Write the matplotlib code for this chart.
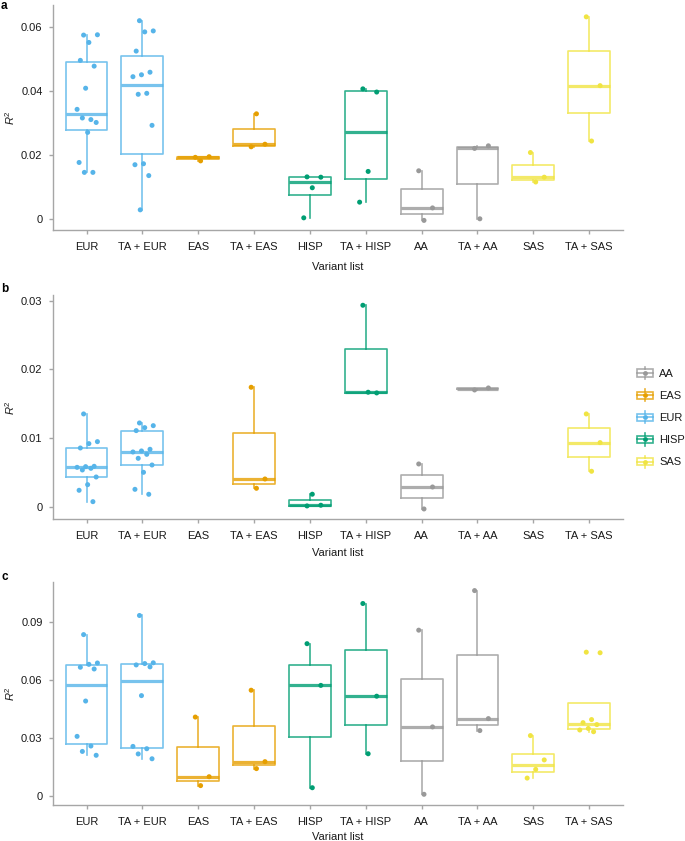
import matplotlib
matplotlib.use("Agg")
import matplotlib.pyplot as plt
import numpy as np
from matplotlib.legend_handler import HandlerBase
from matplotlib.patches import Rectangle, Patch
from matplotlib.lines import Line2D

plt.rcParams['font.family'] = ['Liberation Sans', 'DejaVu Sans']
plt.rcParams['mathtext.fontset'] = 'custom'
plt.rcParams['mathtext.rm'] = 'Liberation Sans'
plt.rcParams['mathtext.it'] = 'Liberation Sans:italic'

# ---------------- data ----------------
groups = ["EUR", "TA + EUR", "EAS", "TA + EAS", "HISP", "TA + HISP",
          "AA", "TA + AA", "SAS", "TA + SAS"]
ancestry = ["EUR", "EUR", "EAS", "EAS", "HISP", "HISP", "AA", "AA", "SAS", "SAS"]
legend_order = ["AA", "EAS", "EUR", "HISP", "SAS"]

r2_a = {
    "EUR": [0.0575, 0.0576, 0.0552, 0.0496, 0.0478, 0.0409, 0.0343, 0.0311,
            0.0316, 0.0302, 0.0271, 0.0177, 0.0146, 0.0146],
    "TA + EUR": [0.0620, 0.0588, 0.0585, 0.0525, 0.0459, 0.0451, 0.0445, 0.0393,
                 0.0390, 0.0293, 0.0173, 0.0170, 0.0136, 0.0029],
    "EAS": [0.0193, 0.0195, 0.0182],
    "TA + EAS": [0.0226, 0.0234, 0.0329],
    "HISP": [0.0132, 0.0131, 0.0098, 0.0004],
    "TA + HISP": [0.0407, 0.0397, 0.0149, 0.0053],
    "AA": [0.0151, 0.0035, -0.0004],
    "TA + AA": [0.0221, 0.0229, 0.0001],
    "SAS": [0.0208, 0.0131, 0.0116],
    "TA + SAS": [0.0632, 0.0417, 0.0244],
}
r2_b = {
    "EUR": [0.01355, 0.00953, 0.00924, 0.00861, 0.00595, 0.00590, 0.00580,
            0.00566, 0.00542, 0.00440, 0.00329, 0.00247, 0.00082],
    "TA + EUR": [0.01224, 0.01185, 0.01156, 0.01113, 0.00842, 0.00818, 0.00803,
                 0.00769, 0.00711, 0.00614, 0.00508, 0.00261, 0.00189],
    "EAS": [],
    "TA + EAS": [0.01742, 0.00411, 0.00276],
    "HISP": [0.0002, 0.0003, 0.0019],
    "TA + HISP": [0.02932, 0.0166, 0.0167],
    "AA": [0.00629, 0.00295, -0.00024],
    "TA + AA": [0.01703, 0.01732],
    "SAS": [],
    "TA + SAS": [0.01355, 0.00939, 0.00523],
}
r2_c = {
    "EUR": [0.0836, 0.0689, 0.0682, 0.0667, 0.0658, 0.0492, 0.0309, 0.0259,
            0.0231, 0.0211],
    "TA + EUR": [0.0935, 0.0690, 0.0686, 0.0679, 0.0669, 0.0520, 0.0257, 0.0245,
                 0.0218, 0.0193],
    "EAS": [0.0409, 0.0100, 0.0054],
    "TA + EAS": [0.0548, 0.0178, 0.0142],
    "HISP": [0.0789, 0.0573, 0.0043],
    "TA + HISP": [0.0997, 0.0517, 0.0219],
    "AA": [0.0859, 0.0358, 0.0009],
    "TA + AA": [0.1064, 0.0401, 0.0339],
    "SAS": [0.0313, 0.0187, 0.0138, 0.0093],
    "TA + SAS": [0.0745, 0.0742, 0.0396, 0.0380, 0.0370, 0.0350, 0.0342, 0.0333],
}
yticks_a = [0, 0.02, 0.04, 0.06]
yticks_b = [0, 0.01, 0.02, 0.03]
yticks_c = [0, 0.03, 0.06, 0.09]
ytick_labels_a = ["0", "0.02", "0.04", "0.06"]
ytick_labels_b = ["0", "0.01", "0.02", "0.03"]
ytick_labels_c = ["0", "0.03", "0.06", "0.09"]

colors = {"AA": "#999999", "EAS": "#E69F00", "EUR": "#56B4E9",
          "HISP": "#009E73", "SAS": "#F0E442"}

# ---------------- figure ----------------
W, H = 685, 841
fig = plt.figure(figsize=(W / 100, H / 100), dpi=100)

def frac_box(top_px, bottom_px, left_px=53, right_px=622.7):
    return [left_px / W, 1 - bottom_px / H, (right_px - left_px) / W,
            (bottom_px - top_px) / H]

panels = [
    dict(data=r2_a, ticks=yticks_a, labels=ytick_labels_a, ylim=(-0.0034, 0.0669),
         box=frac_box(5, 230), letter="a", letter_y=6, xlab_y=266.7),
    dict(data=r2_b, ticks=yticks_b, labels=ytick_labels_b, ylim=(-0.00174, 0.03081),
         box=frac_box(295, 519.3), letter="b", letter_y=289, xlab_y=553.5),
    dict(data=r2_c, ticks=yticks_c, labels=ytick_labels_c, ylim=(-0.0048, 0.1110),
         box=frac_box(581.7, 805.3), letter="c", letter_y=577.5, xlab_y=836.5),
]

axis_col = "#a6a6a6"
text_col = "#1a1a1a"
fs = 8.0
box_lw = 1.2
med_lw = 2.3
jit_w = 0.2

def jitter(n):
    k = np.arange(n)
    return jit_w * (2 * ((k * 0.618034 + 0.37) % 1.0) - 1)

for p in panels:
    ax = fig.add_axes(p["box"])
    for i, g in enumerate(groups):
        vals = p["data"][g]
        if len(vals) == 0:
            continue
        c = colors[ancestry[i]]
        pos = i + 1
        ax.boxplot([vals], positions=[pos], widths=0.75, whis=1.5,
                   showfliers=False, showcaps=False,
                   boxprops=dict(color=c, lw=box_lw, alpha=0.8),
                   whiskerprops=dict(color=c, lw=box_lw, alpha=0.8),
                   medianprops=dict(color=c, lw=med_lw, alpha=0.8,
                                    solid_capstyle='butt'))
        ax.scatter(pos + jitter(len(vals)), vals, s=13, color=c,
                   edgecolors='none', zorder=4)
    ax.set_xlim(0.4, 10.6)
    ax.set_ylim(*p["ylim"])
    ax.set_xticks(range(1, len(groups) + 1))
    ax.set_xticklabels(groups)
    ax.set_yticks(p["ticks"])
    ax.set_yticklabels(p["labels"])
    for s in ["top", "right"]:
        ax.spines[s].set_visible(False)
    for s in ["left", "bottom"]:
        ax.spines[s].set_color(axis_col)
        ax.spines[s].set_linewidth(1.0)
    ax.tick_params(axis='both', colors=axis_col, labelcolor=text_col,
                   labelsize=fs, length=3, width=1.0)
    ax.tick_params(axis='x', pad=5.5)
    ax.tick_params(axis='y', pad=4.5)
    ax.text(-43 / 569.7, 0.5, r"$R^2$", transform=ax.transAxes, rotation=90,
            ha='center', va='center', fontsize=fs, color=text_col)
    bottom_px = (1 - p["box"][1]) * H
    hpx = p["box"][3] * H
    ax.text(0.5, -(p["xlab_y"] - bottom_px) / hpx, "Variant list",
            transform=ax.transAxes, ha='center', va='center',
            fontsize=fs, color=text_col)
    fig.text(1 / W, 1 - p["letter_y"] / H, p["letter"], fontsize=8.5,
             fontweight='bold', ha='left', va='center', color='black')

# ---------------- legend ----------------
class BoxKey(HandlerBase):
    def create_artists(self, legend, orig_handle, xdescent, ydescent, width,
                       height, fontsize, trans):
        c = orig_handle.get_edgecolor()
        x0, y0 = -xdescent, -ydescent
        cx, cy = x0 + width / 2, y0 + height / 2
        bh = height * 0.6
        rect = Rectangle((x0, cy - bh / 2), width, bh, fill=False,
                         edgecolor=c, lw=box_lw, alpha=0.8, transform=trans)
        med = Line2D([x0, x0 + width], [cy, cy], color=c, lw=box_lw,
                     alpha=0.8, transform=trans)
        wt = Line2D([cx, cx], [cy + bh / 2, y0 + height], color=c, lw=box_lw,
                    alpha=0.8, transform=trans)
        wb = Line2D([cx, cx], [y0, cy - bh / 2], color=c, lw=box_lw,
                    alpha=0.8, transform=trans)
        dot = Line2D([cx], [cy], marker='o', ms=3.5, color=c, ls='none',
                     markeredgewidth=0, transform=trans)
        return [rect, med, wt, wb, dot]

handles = [Patch(edgecolor=colors[k], facecolor='none') for k in legend_order]
fig.legend(handles, legend_order, handler_map={Patch: BoxKey()},
           loc='upper left', bbox_to_anchor=(631 / W, 1 - 361.5 / H),
           frameon=False, borderpad=0, handlelength=1.45, handleheight=1.3,
           labelspacing=0.9, handletextpad=0.6, fontsize=fs,
           labelcolor=text_col)

fig.savefig("out.png", dpi=100)
